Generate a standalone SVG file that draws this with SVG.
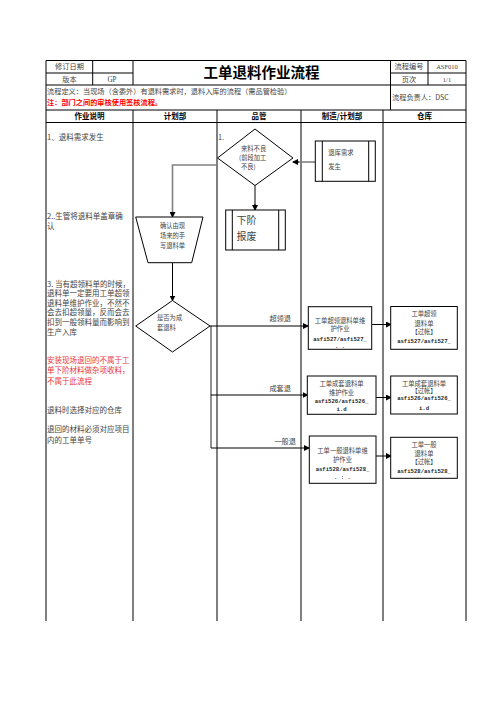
<svg xmlns="http://www.w3.org/2000/svg" width="496" height="702" viewBox="0 0 496 702">
<style>
  .bd{stroke:#000;stroke-width:1;fill:none}
  .t{font-family:"Noto Sans CJK SC","Noto Sans",sans-serif;fill:#444}
  .s7{font-size:7.2px}
  .s75{font-size:7.5px}
  .b{font-weight:bold;fill:#000}
  .c{text-anchor:middle}
  .red{fill:#e8333f}
  .mono{font-family:"Liberation Mono","DejaVu Sans Mono",monospace;font-size:5.6px;font-weight:bold;fill:#222}
  .sm{font-size:6.3px}
  .shape{fill:#fff;stroke:#000;stroke-width:1}
  .gray{stroke:#808080;stroke-width:1.6;fill:none}
  .blk{stroke:#000;stroke-width:1;fill:none}
</style>
<defs>
  <marker id="ah" markerWidth="6" markerHeight="6" refX="5" refY="3" orient="auto" markerUnits="userSpaceOnUse">
    <path d="M0,0 L6,3 L0,6 z" fill="#000"/>
  </marker>
</defs>
<rect width="496" height="702" fill="#fff"/>

<g id="table">
  <line class="bd" x1="46" y1="60.5" x2="466" y2="60.5"/>
  <line class="bd" x1="46" y1="73" x2="133" y2="73"/>
  <line class="bd" x1="390.5" y1="73" x2="466" y2="73"/>
  <line class="bd" x1="46" y1="85" x2="466" y2="85"/>
  <line class="bd" x1="46" y1="110" x2="466" y2="110"/>
  <line class="bd" x1="46" y1="122.5" x2="466" y2="122.5"/>
  <line class="bd" x1="46" y1="60.5" x2="46" y2="621"/>
  <line class="bd" x1="466" y1="60.5" x2="466" y2="621"/>
  <line class="bd" x1="92.7" y1="60.5" x2="92.7" y2="85"/>
  <line class="bd" x1="133" y1="60.5" x2="133" y2="85"/>
  <line class="bd" x1="390.5" y1="60.5" x2="390.5" y2="110"/>
  <line class="bd" x1="428" y1="60.5" x2="428" y2="85"/>
  <line class="bd" x1="133" y1="110" x2="133" y2="621"/>
  <line class="bd" x1="217" y1="110" x2="217" y2="621"/>
  <line class="bd" x1="301" y1="110" x2="301" y2="621"/>
  <line class="bd" x1="383" y1="110" x2="383" y2="621"/>

  <text class="t s7 c" x="69.5" y="69.3">修订日期</text>
  <text class="t s7 c" x="69.5" y="81.5">版本</text>
  <text class="t s7 c" x="112" y="81.5" style="font-family:'Liberation Serif',serif">GP</text>
  <text class="t b c" x="261.5" y="78" style="font-size:14.5px">工单退料作业流程</text>
  <text class="t s7 c" x="409" y="69.3">流程编号</text>
  <text class="t s7 c" x="409" y="81.5">页次</text>
  <text class="t c" x="447" y="69.3" style="font-family:'Liberation Serif',serif;font-size:6.5px">ASF010</text>
  <text class="t c" x="447" y="81.5" style="font-family:'Liberation Serif',serif;font-size:6.5px">1/1</text>
  <text class="t s7" x="47" y="93.5">流程定义：当现场（含委外）有退料需求时，退料入库的流程（需品管检验）</text>
  <text class="t s7 b" x="47" y="105" style="fill:#ff0000">注：部门之间的审核使用签核流程。</text>
  <text class="t s7" x="392" y="100">流程负责人：DSC</text>

  <text class="t s75 b c" x="89.5" y="119">作业说明</text>
  <text class="t s75 b c" x="175" y="119">计划部</text>
  <text class="t s75 b c" x="259" y="119">品管</text>
  <text class="t s75 b c" x="342" y="119">制造/计划部</text>
  <text class="t s75 b c" x="424.5" y="119">仓库</text>
</g>

<g id="notes">
  <text class="t s75" x="47" y="140.4">1、退料需求发生</text>
  <text class="t s75" x="47" y="218.7">2..生管将退料单盖章确</text>
  <text class="t s75" x="47" y="229.4">认</text>
  <text class="t s75" x="47" y="286.7">3. 当有超领料单的时候，</text>
  <text class="t s75" x="47" y="296.2">退料单一定要用工单超领</text>
  <text class="t s75" x="47" y="305.9">退料单维护作业，不然不</text>
  <text class="t s75" x="47" y="315.4">会去扣超领量，反而会去</text>
  <text class="t s75" x="47" y="325">扣到一般领料量而影响到</text>
  <text class="t s75" x="47" y="334.7">生产入库</text>
  <text class="t s75 red" x="47" y="363.4">安装现场退回的不属于工</text>
  <text class="t s75 red" x="47" y="373.4">单下阶材料做杂项收料，</text>
  <text class="t s75 red" x="47" y="383.7">不属于此流程</text>
  <text class="t s75" x="47" y="413.4">退料时选择对应的仓库</text>
  <text class="t s75" x="47" y="432.3">退回的材料必须对应项目</text>
  <text class="t s75" x="47" y="442.5">内的工单单号</text>
</g>

<g id="connectors">
  <polyline class="gray" points="217.5,165 172.5,165 172.5,212" />
  <line class="blk" x1="172.5" y1="212" x2="172.5" y2="217" marker-end="url(#ah)"/>
  <line class="gray" x1="255" y1="185.5" x2="255" y2="205" style="stroke-width:2"/>
  <line class="blk" x1="255" y1="204" x2="255" y2="210" marker-end="url(#ah)"/>
  <line class="gray" x1="315" y1="162" x2="298" y2="162"/>
  <line class="blk" x1="299" y1="162" x2="293" y2="162" marker-end="url(#ah)"/>
  <line class="blk" x1="172.5" y1="263" x2="172.5" y2="300.5" marker-end="url(#ah)"/>
  <line class="gray" x1="211" y1="326" x2="211" y2="448" style="stroke-width:1.3;stroke:#555"/>
  <line class="blk" x1="210" y1="326" x2="308" y2="326" style="stroke-width:1.2" marker-end="url(#ah)"/>
  <line class="blk" x1="211" y1="395" x2="307.5" y2="395" style="stroke-width:1.2" marker-end="url(#ah)"/>
  <line class="blk" x1="211" y1="448" x2="309" y2="448" style="stroke-width:1.2" marker-end="url(#ah)"/>
  <line class="blk" x1="372" y1="324.5" x2="391" y2="324.5" marker-end="url(#ah)"/>
  <line class="blk" x1="376" y1="397.5" x2="391" y2="397.5" marker-end="url(#ah)"/>
  <line class="blk" x1="376" y1="456" x2="391" y2="456" marker-end="url(#ah)"/>
  <text class="t s7" x="291" y="320.8" text-anchor="end">超领退</text>
  <text class="t s7" x="291" y="390.8" text-anchor="end">成套退</text>
  <text class="t s7" x="296" y="443.5" text-anchor="end">一般退</text>
</g>

<g id="n-start">
  <text class="t s7" x="218" y="140">1.</text>
</g>

<g id="n-qc-diamond">
  <polygon class="shape" points="217.5,158 255,129 293,158 255,185.5"/>
  <text class="t sm" x="241" y="150.5">来料不良</text>
  <text class="t sm" x="239" y="160">(前段加工</text>
  <text class="t sm" x="241" y="169">不良)</text>
</g>

<g id="n-request">
  <rect class="shape" x="315.3" y="141" width="60" height="40.3"/>
  <line class="bd" x1="322.3" y1="141" x2="322.3" y2="181.3"/>
  <line class="bd" x1="368.7" y1="141" x2="368.7" y2="181.3"/>
  <text class="t sm" x="328.3" y="154.6">退库需求</text>
  <text class="t sm" x="328.3" y="169">发生</text>
</g>

<g id="n-scrap">
  <rect class="shape" x="225.7" y="210" width="59.6" height="40"/>
  <line class="bd" x1="232.3" y1="210" x2="232.3" y2="250"/>
  <line class="bd" x1="278.7" y1="210" x2="278.7" y2="250"/>
  <text class="t" x="236.5" y="223.6" style="font-size:10px">下阶</text>
  <text class="t" x="236.5" y="239.6" style="font-size:10px">报废</text>
</g>

<g id="n-confirm">
  <polygon class="shape" points="135.7,217 203,217 191.7,262.7 148,262.7"/>
  <text class="t sm c" x="172.5" y="228.3">确认由现</text>
  <text class="t sm c" x="172.5" y="238.3">场来的手</text>
  <text class="t sm c" x="172.5" y="248.3">写退料单</text>
</g>

<g id="n-decision">
  <polygon class="shape" points="135.7,326 172.5,300.5 210,326 172.5,352"/>
  <text class="t sm" x="157" y="320">是否为成</text>
  <text class="t sm" x="157" y="330">套退料</text>
</g>

<g id="n-mfg1">
  <rect class="shape" x="308.3" y="306.7" width="63.4" height="42.6"/>
  <text class="t sm c" x="340" y="323.3">工单超领退料单维</text>
  <text class="t sm c" x="340" y="331">护作业</text>
  <text class="mono c" x="340" y="340.5">asfi527/asfi527_</text>
  <text class="mono c" x="340" y="347.5">. .</text>
</g>

<g id="n-wh1">
  <rect class="shape" x="390.7" y="306.5" width="66.6" height="42.8"/>
  <text class="t sm c" x="424" y="315.5">工单超领</text>
  <text class="t sm c" x="424" y="325.5">退料单</text>
  <text class="t sm c" x="424" y="333.9">【过帐】</text>
  <text class="mono c" x="424" y="343">asfi527/asfi527_</text>
</g>

<g id="n-mfg2">
  <rect class="shape" x="307.3" y="376" width="68.7" height="38.3"/>
  <text class="t sm c" x="341.5" y="386.2">工单成套退料单</text>
  <text class="t sm c" x="341.5" y="394.9">维护作业</text>
  <text class="mono c" x="341.5" y="402.6">asfi526/asfi526_</text>
  <text class="mono c" x="341.5" y="411.2">i.d</text>
</g>

<g id="n-wh2">
  <rect class="shape" x="390.7" y="376" width="66.6" height="38"/>
  <text class="t sm c" x="424" y="385.5">工单成套退料单</text>
  <text class="t sm c" x="424" y="393.2">【过帐】</text>
  <text class="mono c" x="424" y="400.3">asfi526/asfi526_</text>
  <text class="mono c" x="424" y="409.6">i.d</text>
</g>

<g id="n-mfg3">
  <rect class="shape" x="309.3" y="436" width="66.7" height="47.3"/>
  <text class="t sm c" x="342.5" y="453.2">工单一般退料单维</text>
  <text class="t sm c" x="342.5" y="461.5">护作业</text>
  <text class="mono c" x="342.5" y="471">asfi528/asfi528_</text>
  <text class="mono c" x="342.5" y="478.6">. : .</text>
</g>

<g id="n-wh3">
  <rect class="shape" x="390.7" y="437.3" width="66.6" height="41"/>
  <text class="t sm c" x="424" y="447.2">工单一般</text>
  <text class="t sm c" x="424" y="455.5">退料单</text>
  <text class="t sm c" x="424" y="463.9">【过帐】</text>
  <text class="mono c" x="424" y="472.7">asfi528/asfi528_</text>
</g>
</svg>
